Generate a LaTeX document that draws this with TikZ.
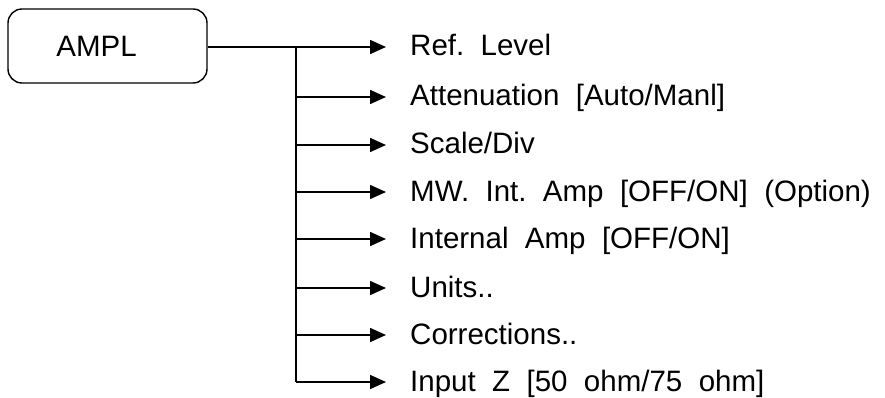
\documentclass[tikz,border=0pt]{standalone}
\usepackage{fontspec}
\setmainfont{Liberation Sans}
\usetikzlibrary{arrows.meta}
\begin{document}
\begin{tikzpicture}[x=1pt,y=-1pt,
  conn/.style={line width=1.6pt},
  arr/.style={conn,-{Triangle[length=16pt,width=14pt]}},
  item/.style={anchor=base west,inner sep=0pt,font=\fontsize{29.5}{34}\selectfont},
  menubox/.style={draw,line width=1.4pt,rounded corners=14pt,minimum width=199pt,minimum height=74pt,font=\fontsize{29.5}{34}\selectfont}]
\useasboundingbox (0,0) rectangle (885,398);
\node[menubox] (ampl) at (107.5,46) {AMPL\hspace*{22pt}};
\coordinate (top) at (296,47);
\coordinate (bot) at (296,382);
\foreach \i/\y/\t in {1/47/{Ref.\ \ Level},2/97/{Attenuation \ [Auto/Manl]},3/145/{Scale/Div},4/192/{MW.\ \ Int.\ \ Amp \ [OFF/ON] \ (Option)},5/239/{Internal \ Amp \ [OFF/ON]},6/288/{Units..},7/335/{Corrections..},8/382/{Input \ Z \ [50 \ ohm/75 \ ohm]}}{
  \node[item] (t\i) at (410,\y+9) {\t};
  \coordinate (b\i) at (296,\y);
  \coordinate (e\i) at (386,\y);
}
\draw[conn] (ampl.east |- top) -- (top);
\draw[conn] (top) -- (bot);
\foreach \i in {1,...,8}{
  \draw[arr] (b\i) -- (e\i);
}
\end{tikzpicture}
\end{document}
